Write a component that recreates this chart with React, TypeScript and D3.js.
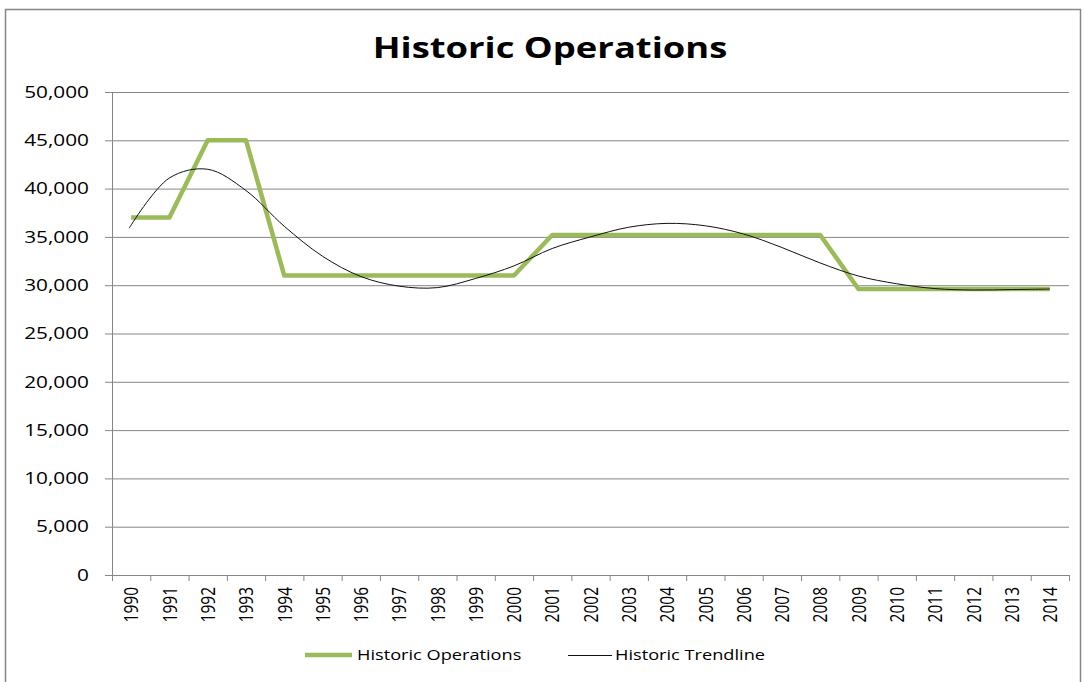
import * as d3 from "d3";

const years = d3.range(1990, 2015).map(String);

// Historic Operations (green)
const operations = [
  37000, 37000, 45000, 45000, 31000, 31000, 31000, 31000, 31000, 31000, 31000,
  35200, 35200, 35200, 35200, 35200, 35200, 35200, 35200,
  29600, 29600, 29600, 29600, 29600, 29600,
];

// Historic Trendline (thin black, smooth)
const trend = [
  35900, 41100, 42000, 39800, 36100, 33000, 30900, 29900, 29750, 30700, 32000,
  33800, 35000, 36000, 36400, 36150, 35300, 33900, 32300, 30950, 30150, 29650,
  29500, 29550, 29600,
];

const yTicks = d3.range(0, 50001, 5000);

const width = 1085;
const height = 682;
const left = 112;
const right = 1069;
const top = 92;
const bottom = 575;
const sx = 1.3; // source image is stretched horizontally
const font = "'Open Sans', 'Noto Sans', sans-serif";
const grid = "#868686";
const green = "#9BBB59";

export default function App() {
  const x = d3.scaleBand<string>().domain(years).range([left, right]);
  const y = d3.scaleLinear().domain([0, 50000]).range([bottom, top]);
  const cx = (yr: string) => (x(yr) ?? 0) + x.bandwidth() / 2;

  const opsLine = d3
    .line<number>()
    .x((_, i) => cx(years[i]))
    .y((d) => y(d));
  const trendLine = d3
    .line<number>()
    .x((_, i) => cx(years[i]) - (i === 0 ? 2 : 0))
    .y((d) => y(d))
    .curve(d3.curveCatmullRom.alpha(0.5));

  const bounds = years.map((yr) => x(yr) ?? 0).concat([right]);

  return (
    <svg
      width={width}
      height={height}
      style={{ position: "absolute", left: 0, top: 0, background: "white" }}
    >
      <rect x={5.5} y={9.5} width={1075} height={690} fill="white" stroke={grid} strokeWidth={1.5} />

      {/* title */}
      <text
        transform={`translate(550,58) scale(${sx},1)`}
        textAnchor="middle"
        fontFamily={font}
        fontWeight="bold"
        fontSize={28}
        fill="#000"
      >
        Historic Operations
      </text>

      {/* horizontal gridlines + y labels */}
      {yTicks.map((t) => (
        <g key={t}>
          <line x1={left - 7} x2={right} y1={y(t) + 0.5} y2={y(t) + 0.5} stroke={grid} />
          <text
            transform={`translate(89,${y(t)}) scale(${sx},1)`}
            dy="0.36em"
            textAnchor="end"
            fontFamily={font}
            fontSize={16}
            fill="#000"
          >
            {d3.format(",")(t)}
          </text>
        </g>
      ))}

      {/* y axis */}
      <line x1={left + 0.5} x2={left + 0.5} y1={top} y2={bottom + 6} stroke={grid} />

      {/* x ticks */}
      {bounds.map((b, i) => (
        <line key={i} x1={b + 0.5} x2={b + 0.5} y1={bottom} y2={bottom + 6} stroke={grid} />
      ))}

      {/* x labels */}
      {years.map((yr) => (
        <text
          key={yr}
          transform={`translate(${cx(yr)},587) scale(${sx},1) rotate(-90)`}
          dy="0.36em"
          textAnchor="end"
          fontFamily={font}
          fontSize={15.5}
          fill="#000"
        >
          {yr}
        </text>
      ))}

      {/* series */}
      <path d={opsLine(operations) ?? ""} fill="none" stroke={green} strokeWidth={4.5} strokeLinejoin="round" />
      <path d={trendLine(trend) ?? ""} fill="none" stroke="#111" strokeWidth={1} />

      {/* legend */}
      <line x1={305} x2={352} y1={655} y2={655} stroke={green} strokeWidth={4.5} />
      <text
        transform={`translate(357,655) scale(${sx},1)`}
        dy="0.36em"
        fontFamily={font}
        fontSize={14}
        fill="#000"
      >
        Historic Operations
      </text>
      <line x1={568} x2={612} y1={655.5} y2={655.5} stroke="#111" strokeWidth={1} />
      <text
        transform={`translate(615,655) scale(${sx},1)`}
        dy="0.36em"
        fontFamily={font}
        fontSize={14}
        fill="#000"
      >
        Historic Trendline
      </text>
    </svg>
  );
}
